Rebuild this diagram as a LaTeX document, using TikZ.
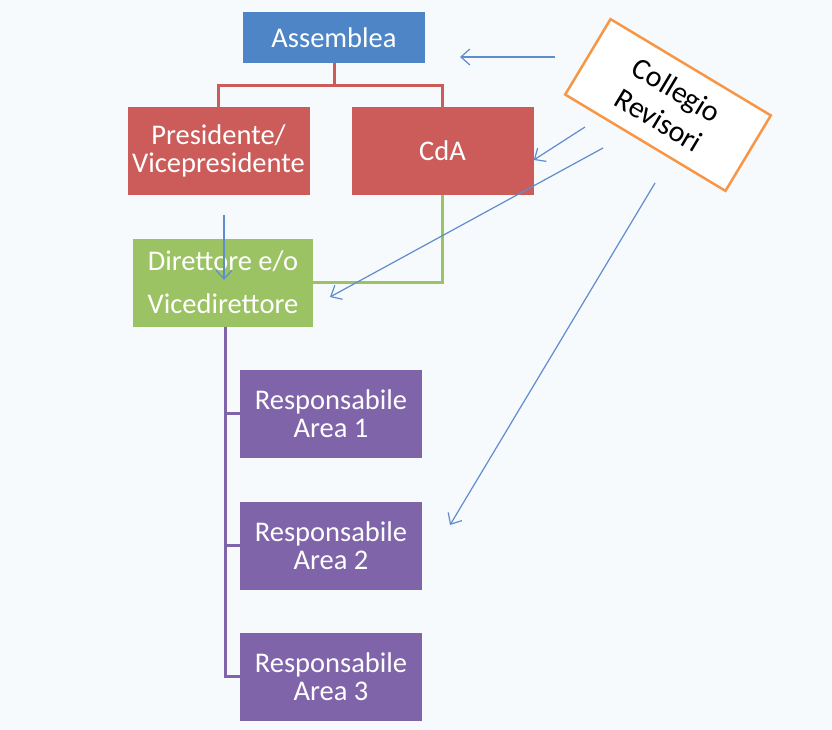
\documentclass[tikz,border=0pt]{standalone}
\usepackage{fontspec}
\setmainfont{Carlito}
\usetikzlibrary{positioning,calc,arrows.meta}

\definecolor{bgcol}{RGB}{247,250,253}
\definecolor{assblue}{RGB}{77,133,199}
\definecolor{presred}{RGB}{204,92,90}
\definecolor{dirgreen}{RGB}{155,194,99}
\definecolor{resppurple}{RGB}{128,100,170}
\definecolor{revorange}{RGB}{247,150,70}
\definecolor{arrowblue}{RGB}{95,140,205}

\tikzset{
    orgbox/.style={fill=#1, text=white, align=center, inner sep=0pt,
        minimum width=182pt, minimum height=88pt,
        font=\fontsize{28.5}{28}\selectfont},
    link/.style={draw=#1, line width=3pt},
    audit/.style={draw=arrowblue, line width=1.2pt,
        -{Straight Barb[length=9pt,width=16pt,line width=1.2pt]}}
}

\begin{document}
\begin{tikzpicture}[x=1pt,y=-1pt]
    \fill[bgcol] (0,0) rectangle (832,730);
    \useasboundingbox (0,0) rectangle (832,730);

    % Boxes
    \node[orgbox=assblue, minimum height=51pt] (assemblea) at (334,37.5) {Assemblea};
    \node[orgbox=presred] (presidente) at (218.5,151) {Presidente/\\Vicepresidente};
    \node[orgbox=presred] (cda) at (442.5,151) {CdA};
    \node[orgbox=dirgreen, minimum width=180pt, font=\fontsize{28.5}{43}\selectfont]
        (direttore) at (223,282.5) {Direttore e/o\\Vicedirettore};
    \node[orgbox=resppurple] (resp1) at (331,413.5) {Responsabile\\Area 1};
    \node[orgbox=resppurple] (resp2) at (331,545.5) {Responsabile\\Area 2};
    \node[orgbox=resppurple] (resp3) at (331,676.5) {Responsabile\\Area 3};
    \node[draw=revorange, line width=2.5pt, fill=white, text=black, align=center,
        minimum width=187pt, minimum height=88pt, rotate=-31,
        font=\fontsize{30}{35}\selectfont] (collegio) at (668,105) {Collegio\\Revisori};

    % Hierarchy lines
    \draw[link=presred] (assemblea.south) -- ++(0,22) -| (presidente.north);
    \draw[link=presred] (assemblea.south) -- ++(0,22) -| (cda.north);
    \draw[link=dirgreen] (cda.south) |- (direttore.east);
    \foreach \i in {1,2,3}
        \draw[link=resppurple] ([xshift=2pt]direttore.south) |- (resp\i.west);

    % Control arrows
    \coordinate (c1) at (555,57);
    \coordinate (c2) at (585,127);
    \coordinate (c3) at (603,148);
    \coordinate (c4) at (655,183);
    \coordinate (tipA) at (460,57);
    \coordinate (tipD) at (330,297);
    \coordinate (tipR) at (450,525);
    \coordinate (p1) at (224,215);
    \coordinate (tipP) at (224,280);
    \draw[audit] (c1) -- (tipA);
    \draw[audit] (c2) -- ([yshift=-9pt]cda.east);
    \draw[audit] (c3) -- (tipD);
    \draw[audit] (c4) -- (tipR);
    \draw[audit] (p1) -- (tipP);
\end{tikzpicture}
\end{document}
